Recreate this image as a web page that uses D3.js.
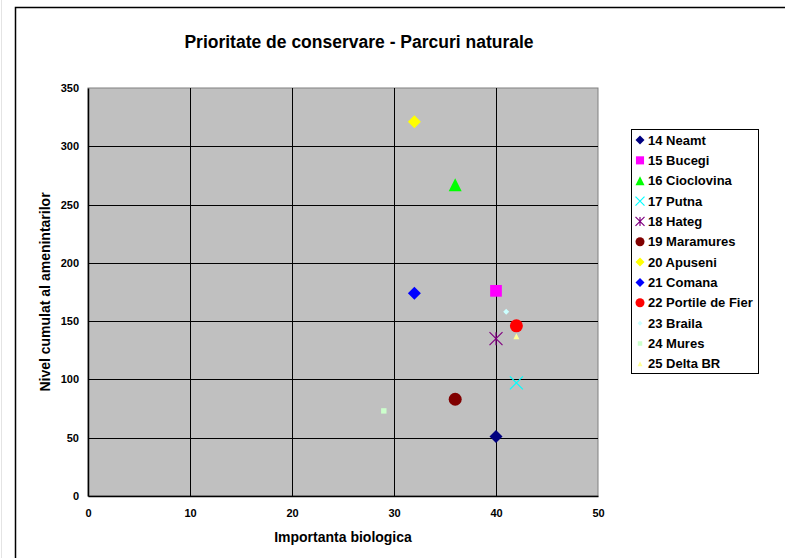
<!DOCTYPE html>
<html>
<head>
<meta charset="utf-8">
<script src="https://cdn.jsdelivr.net/npm/d3@7"></script>
<style>
  body { margin: 0; background: #fff; }
  text { font-family: "Liberation Sans", Arial, sans-serif; font-weight: bold; fill: #000; }
</style>
</head>
<body>
<div id="chart"></div>
<script>
// parks (series), one point each
var parks = ["14 Neamt", "15 Bucegi", "16 Cioclovina", "17 Putna", "18 Hateg", "19 Maramures",
             "20 Apuseni", "21 Comana", "22 Portile de Fier", "23 Braila", "24 Mures", "25 Delta BR"];
var importanta = [40, 40, 36, 42, 40, 36, 32, 32, 42, 41, 29, 42];
var amenintari = [51, 176, 267, 97, 135, 83, 321, 174, 146, 158, 73, 137];
var colors = ["#000080", "#ff00ff", "#00ff00", "#00ffff", "#800080", "#800000",
              "#ffff00", "#0000ff", "#ff0000", "#ccffff", "#ccffcc", "#ffff99"];
var shapes = ["diamond", "square", "triangle", "x", "star", "circle",
              "diamond", "diamond", "circle", "diamond", "square", "triangle"];
var big = [true, true, true, true, true, true, true, true, true, false, false, false];
var xTicks = [0, 10, 20, 30, 40, 50];
var yTicks = [0, 50, 100, 150, 200, 250, 300, 350];

var width = 785, height = 558;
var svg = d3.select("#chart").append("svg")
    .attr("width", width)
    .attr("height", height);

// chart frame (runs off the right and bottom edges)
svg.append("line").attr("x1", 1.5).attr("x2", 1.5).attr("y1", 0).attr("y2", height)
    .attr("stroke", "#e4e4e4");
svg.append("rect")
    .attr("x", 15.5).attr("y", 7.5)
    .attr("width", 900).attr("height", 700)
    .attr("fill", "none").attr("stroke", "#000").attr("stroke-width", 1.5);

var x = d3.scaleLinear().domain([0, 50]).range([88, 598]);
var y = d3.scaleLinear().domain([0, 350]).range([496, 88]);

// plot area
svg.append("rect")
    .attr("x", x(0)).attr("y", y(350))
    .attr("width", x(50) - x(0)).attr("height", y(0) - y(350))
    .attr("fill", "#c0c0c0").attr("stroke", "#808080");

// gridlines
svg.append("g").selectAll("line").data(xTicks.slice(1, -1)).enter().append("line")
    .attr("x1", d => Math.round(x(d)) + 0.5).attr("x2", d => Math.round(x(d)) + 0.5)
    .attr("y1", y(350)).attr("y2", y(0))
    .attr("stroke", "#000");
svg.append("g").selectAll("line").data(yTicks.slice(1, -1)).enter().append("line")
    .attr("y1", d => Math.round(y(d)) + 0.5).attr("y2", d => Math.round(y(d)) + 0.5)
    .attr("x1", x(0)).attr("x2", x(50))
    .attr("stroke", "#000");

// axes
var xAxis = svg.append("g").attr("transform", "translate(0," + y(0) + ")")
    .call(d3.axisBottom(x).tickValues(xTicks).tickSize(0).tickPadding(13));
var yAxis = svg.append("g").attr("transform", "translate(" + x(0) + ",0)")
    .call(d3.axisLeft(y).tickValues(yTicks).tickSize(0).tickPadding(9));
[xAxis, yAxis].forEach(function (a) {
    a.select(".domain").attr("stroke", "#000").attr("stroke-width", 1.5);
    a.selectAll("text").style("font-family", "'Liberation Sans', Arial, sans-serif")
        .style("font-weight", "bold").style("font-size", "11px");
});

// titles
svg.append("text").attr("x", 359).attr("y", 48).attr("text-anchor", "middle")
    .style("font-size", "17.5px").text("Prioritate de conservare - Parcuri naturale");
svg.append("text").attr("x", 343).attr("y", 542).attr("text-anchor", "middle")
    .style("font-size", "14px").text("Importanta biologica");
svg.append("text").attr("transform", "translate(50,292) rotate(-90)").attr("text-anchor", "middle")
    .style("font-size", "14px").text("Nivel cumulat al amenintarilor");

// marker drawing
function drawMarker(g, shape, color, s) {
    var h = s / 2;
    if (shape === "diamond") {
        g.append("path").attr("d", "M0," + (-h) + "L" + h + ",0L0," + h + "L" + (-h) + ",0Z").attr("fill", color);
    } else if (shape === "square") {
        g.append("rect").attr("x", -h * 0.9).attr("y", -h * 0.9).attr("width", s * 0.9).attr("height", s * 0.9).attr("fill", color);
    } else if (shape === "triangle") {
        g.append("path").attr("d", "M0," + (-h) + "L" + h + "," + h + "L" + (-h) + "," + h + "Z").attr("fill", color);
    } else if (shape === "circle") {
        g.append("circle").attr("r", h).attr("fill", color);
    } else if (shape === "x" || shape === "star") {
        var p = "M" + (-h) + "," + (-h) + "L" + h + "," + h + "M" + (-h) + "," + h + "L" + h + "," + (-h);
        if (shape === "star") p += "M0," + (-h) + "L0," + h;
        g.append("path").attr("d", p).attr("stroke", color).attr("stroke-width", 1.2).attr("fill", "none");
    }
}

var points = svg.append("g").selectAll("g").data(parks).enter().append("g")
    .attr("transform", (d, i) => "translate(" + x(importanta[i]) + "," + y(amenintari[i]) + ")");
points.each(function (d, i) {
    drawMarker(d3.select(this), shapes[i], colors[i], big[i] ? 13 : 6);
});

// legend
var legend = svg.append("g");
legend.append("rect").attr("x", 631.5).attr("y", 129.5).attr("width", 127).attr("height", 244)
    .attr("fill", "#fff").attr("stroke", "#000");
var items = legend.selectAll("g.item").data(parks).enter().append("g").attr("class", "item")
    .attr("transform", (d, i) => "translate(640," + (140 + i * 20.35) + ")");
items.each(function (d, i) {
    drawMarker(d3.select(this), shapes[i], colors[i], big[i] ? 9 : 5);
});
items.append("text").attr("x", 8).attr("y", 4.5).style("font-size", "13px").text(d => d);
</script>
</body>
</html>
